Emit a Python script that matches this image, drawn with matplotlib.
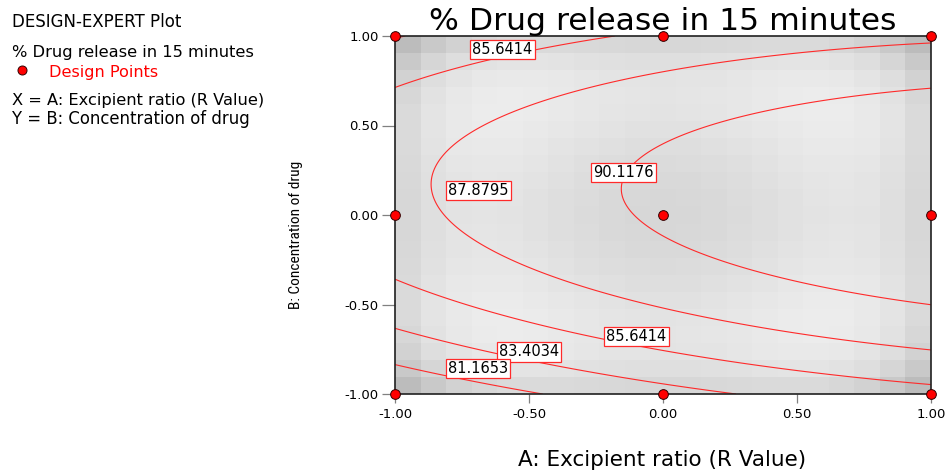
import numpy as np
import matplotlib
matplotlib.use('Agg')
import matplotlib.pyplot as plt
from matplotlib.colors import LinearSegmentedColormap, Normalize
from matplotlib.lines import Line2D
from matplotlib import font_manager

# ---------------- data ----------------
design_A = [-1, 0, 1, -1, 0, 1, -1, 0, 1]
design_B = [-1, -1, -1, 0, 0, 0, 1, 1, 1]
# quadratic response-surface coefficients (Intercept, A, B, AB, A^2, B^2)
coef_values = [90.40, 2.54, 1.70, -0.444, -0.67, -6.06]
contour_levels = [81.1653, 83.4034, 85.6414, 87.8795, 90.1176]
tick_values = [-1.0, -0.5, 0.0, 0.5, 1.0]
tick_labels = ['-1.00', '-0.50', '0.00', '0.50', '1.00']
title_text = '% Drug release in 15 minutes'
x_label = 'A: Excipient ratio (R Value)'
y_label = 'B: Concentration of drug'
info_lines = ['DESIGN-EXPERT Plot', '% Drug release in 15 minutes', 'Design Points',
              'X = A: Excipient ratio (R Value)', 'Y = B: Concentration of drug']

# contour label placement (layout): level, x, y
label_levels = [85.6414, 87.8795, 90.1176, 85.6414, 83.4034, 81.1653]
label_x = [-0.60, -0.69, -0.146, -0.10, -0.50, -0.69]
label_y = [0.926, 0.138, 0.238, -0.68, -0.765, -0.857]

W, H = 947, 470
fig = plt.figure(figsize=(W / 100, H / 100), dpi=100)
ax = fig.add_axes([395 / W, (H - 394) / H, 536 / W, 358 / H])


def terms(a, b):
    return np.stack([np.ones_like(a), a, b, a * b, a ** 2, b ** 2], axis=-1)


# background shading: relative prediction variance of the design, sampled on a 21x21 grid
Xd = terms(np.array(design_A, float), np.array(design_B, float))
XtX_inv = np.linalg.inv(Xd.T @ Xd)
nodes = np.linspace(-1, 1, 21)
edges = np.linspace(-1, 1, 22)
NA, NB = np.meshgrid(nodes, nodes)
F = terms(NA, NB)
var = np.einsum('...i,ij,...j->...', F, XtX_inv, F)
cmap = LinearSegmentedColormap.from_list('g', ['#ececec', '#bcbcbc'])
ax.pcolormesh(edges, edges, var, cmap=cmap, norm=Normalize(var.min(), var.max()),
              shading='flat', zorder=0)

# response surface contours
g = np.linspace(-1, 1, 201)
GA, GB = np.meshgrid(g, g)
Y = terms(GA, GB) @ np.array(coef_values)
ax.contour(GA, GB, Y, levels=contour_levels, colors='#ff2a2a', linewidths=0.8, zorder=2)

for lv, lx, ly in zip(label_levels, label_x, label_y):
    ax.text(lx, ly, f'{lv:.4f}', ha='center', va='center', fontsize=10.5, color='black',
            bbox=dict(boxstyle='square,pad=0.15', fc='white', ec='#ff2a2a', lw=0.9), zorder=5)

ax.plot(design_A, design_B, 'o', ms=7, mfc='red', mec='#300000', mew=0.7,
        clip_on=False, zorder=10, linestyle='none')

ax.set_xlim(-1, 1)
ax.set_ylim(-1, 1)
ax.set_xticks(tick_values, tick_labels)
ax.set_yticks(tick_values, tick_labels)
ax.tick_params(axis='x', length=6.5, width=0.9, color='#808080', pad=3.5, labelsize=9.5)
ax.tick_params(axis='y', length=9.4, width=0.9, color='#808080', pad=2.5, labelsize=9.5)
for s in ax.spines.values():
    s.set_color('#202020')
    s.set_linewidth(1.2)

r = fig.canvas.get_renderer()


def fit(t, target, factor=0.85, vertical=False):
    bb = t.get_window_extent(renderer=r)
    w = bb.height if vertical else bb.width
    t.set_fontsize(t.get_fontsize() * target * factor / w)


def fx(px):
    return px / W


def fy(py):
    return 1 - py / H


# condensed face for the vertical axis label
cond = None
for f in font_manager.fontManager.ttflist:
    nm = (f.name + ' ' + f.fname).lower()
    if ('narrow' in nm or 'condensed' in nm) and 'bold' not in nm and 'oblique' not in nm \
            and 'italic' not in nm and 'mono' not in nm and 'serif' not in nm.replace('sans', ''):
        cond = f.fname
        if 'liberation' in nm:
            break

t = fig.text(fx(662.5), fy(30), title_text, ha='center', va='baseline', fontsize=20)
fit(t, 543, 0.86)
t = fig.text(fx(662), fy(466), x_label, ha='center', va='baseline', fontsize=12)
fit(t, 359, 0.8)
if cond:
    fp = font_manager.FontProperties(fname=cond, size=12)
    t = fig.text(fx(296), fy(235), y_label, ha='center', va='center', rotation=90,
                 fontproperties=fp)
else:
    t = fig.text(fx(296), fy(235), y_label, ha='center', va='center', rotation=90, fontsize=12)
fit(t, 148, factor=1.0, vertical=True)

info_x = [12, 12, 49, 12, 12]
info_base = [27, 57, 77, 105, 124]
info_w = [246, 350, 159, 368, 346]
info_col = ['black', 'black', 'red', 'black', 'black']
for s, x0, yb, w0, c in zip(info_lines, info_x, info_base, info_w, info_col):
    t = fig.text(fx(x0), fy(yb), s, ha='left', va='baseline', fontsize=11, color=c)
    fit(t, w0, 0.69)

fig.add_artist(Line2D([fx(22)], [fy(70)], marker='o', ms=6.5, mfc='red', mec='#300000',
                      mew=0.7, linestyle='none', transform=fig.transFigure))

fig.savefig('out.png', dpi=100)
